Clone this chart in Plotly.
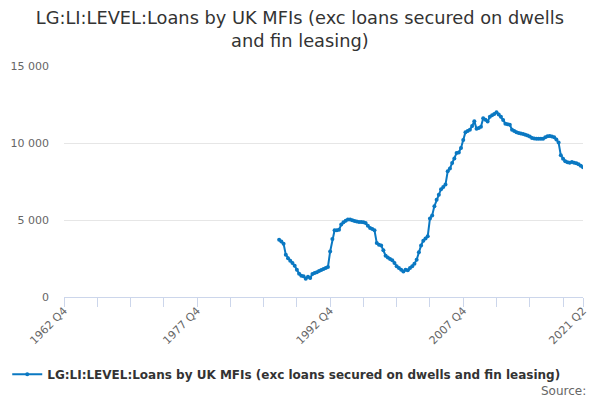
import plotly.graph_objects as go

# quarterly axis from 1962 Q4 to 2021 Q2
first_year, first_q = 1962, 4
last_year, last_q = 2021, 2
quarters = []
y, q = first_year, first_q
while (y, q) <= (last_year, last_q):
    quarters.append(f"{y} Q{q}")
    q += 1
    if q > 4:
        y, q = y + 1, 1

series_start = "1987 Q1"
series_name = "LG:LI:LEVEL:Loans by UK MFIs (exc loans secured on dwells and fin leasing)"

# 1987 Q1 .. 2021 Q2
loans = [
    3720, 3610, 3460, 2750,  # 1987
    2510, 2360, 2210, 2030,  # 1988
    1770, 1510, 1380, 1340,  # 1989
    1190, 1320, 1230, 1490,  # 1990
    1560, 1600, 1690, 1750,  # 1991
    1820, 1880, 1950, 2960,  # 1992
    3770, 4330, 4330, 4370,  # 1993
    4700, 4850, 4950, 5040,  # 1994
    5040, 4980, 4930, 4910,  # 1995
    4870, 4870, 4850, 4800,  # 1996
    4630, 4480, 4420, 4330,  # 1997
    3510, 3400, 3350, 3030,  # 1998
    2680, 2570, 2470, 2380,  # 1999
    2210, 1990, 1880, 1770,  # 2000
    1660, 1770, 1730, 1880,  # 2001
    1990, 2160, 2420, 2900,  # 2002
    3350, 3660, 3800, 3950,  # 2003
    5100, 5300, 5900, 6320,  # 2004
    6640, 7000, 7150, 7300,  # 2005
    8160, 8350, 8700, 9000,  # 2006
    9350, 9390, 9680, 10200,  # 2007
    10700, 10780, 10860, 11100,  # 2008
    11420, 10920, 10980, 11050,  # 2009
    11600, 11510, 11400, 11700,  # 2010
    11800, 11880, 11990, 11850,  # 2011
    11700, 11500, 11250, 11210,  # 2012
    11180, 10860, 10780, 10700,  # 2013
    10650, 10620, 10590, 10540,  # 2014
    10480, 10420, 10330, 10300,  # 2015
    10280, 10280, 10270, 10270,  # 2016
    10380, 10440, 10450, 10430,  # 2017
    10380, 10220, 10030, 9200,  # 2018
    8980, 8820, 8750, 8720,  # 2019
    8760, 8720, 8690, 8620,  # 2020
    8520, 8430,  # 2021
]

y_ticks = [0, 5000, 10000, 15000]

start = quarters.index(series_start)
y_values = [None] * start + loans

tick_vals = quarters[::15]
if quarters[-1] not in tick_vals:
    tick_vals.append(quarters[-1])
tick_text = [t if (quarters.index(t) % 60 == 0 or t == quarters[-1]) else "" for t in tick_vals]

line_color = "#0a78c2"

fig = go.Figure()
fig.add_trace(go.Scatter(
    x=quarters, y=y_values, name=series_name,
    mode="lines+markers",
    line=dict(color=line_color, width=2),
    marker=dict(color=line_color, size=4),
    connectgaps=False,
))

# page body has an 8px margin, so the figure is 592x392
fig.update_layout(
    width=592, height=392,
    margin=dict(l=56, r=17, t=58, b=103, autoexpand=False),
    paper_bgcolor="white", plot_bgcolor="white",
    font=dict(family="DejaVu Sans", color="#333333"),
    separators=". ",
    title=dict(
        text="LG:LI:LEVEL:Loans by UK MFIs (exc loans secured on dwells<br>and fin leasing)",
        x=0.493, xref="container", xanchor="center",
        y=0.96, yref="container", yanchor="top",
        font=dict(size=17.8, color="#333333"),
    ),
    showlegend=True,
    legend=dict(
        orientation="h", x=0.47, xref="container", xanchor="center",
        y=0.066, yref="container", yanchor="middle",
        font=dict(size=12, color="#333333", weight="bold"),
        itemwidth=30,
    ),
    annotations=[dict(
        text="Source:", xref="paper", yref="paper",
        x=1.01, y=-0.405, xanchor="right", yanchor="middle",
        showarrow=False, font=dict(size=12, color="#666666"),
    )],
)

fig.update_xaxes(
    type="category", categoryorder="array", categoryarray=quarters,
    range=[0, len(quarters) - 1], automargin=False,
    tickmode="array", tickvals=tick_vals, ticktext=tick_text,
    tickangle=-45, tickfont=dict(size=11, color="#666666"),
    ticks="outside", ticklen=9, tickcolor="#ccd6eb", ticklabelstandoff=-7,
    showline=True, linecolor="#ccd6eb", linewidth=1,
    showgrid=False, zeroline=False,
)
fig.update_yaxes(
    range=[0, 15000], tickmode="array", tickvals=y_ticks, tickformat=",d",
    tickfont=dict(size=11, color="#666666"), automargin=False,
    showgrid=True, gridcolor="#e6e6e6", gridwidth=1,
    zeroline=False, showline=False, ticklabelstandoff=14,
)

fig.write_html("out.html")
